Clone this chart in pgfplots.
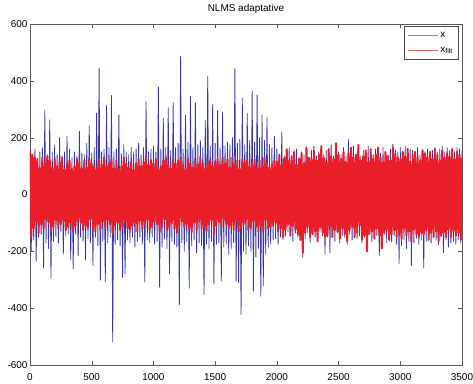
\documentclass[border=0pt]{standalone}
\usepackage{pgfplots}
\pgfplotsset{compat=1.18}
\usepackage{fontspec}
\setmainfont{Liberation Sans}
\definecolor{xblue}{RGB}{55,55,165}
\definecolor{xred}{RGB}{234,30,40}
\definecolor{legblue}{RGB}{130,130,205}
\definecolor{legred}{RGB}{230,100,110}
\begin{document}
\begin{tikzpicture}
\useasboundingbox (-30bp,-19bp) rectangle (443bp,365bp);
\begin{axis}[
  scale only axis, width=432bp, height=341bp,
  xmin=0, xmax=3500, ymin=-600, ymax=600,
  xtick={0,500,...,3500}, ytick={-600,-400,...,600},
  tick align=inside, major tick length=4bp,
  axis line style={black!65}, tick style={black!65},
  tick label style={font=\fontsize{10}{12}\selectfont},
  /pgf/number format/assume math mode=true,
  /pgf/number format/1000 sep={},
  xticklabel style={yshift=-5bp},
  yticklabel style={xshift=1bp},
  title={NLMS adaptative},
  title style={font=\fontsize{10}{12}\selectfont, yshift=1bp},
  legend style={at={(1,1)}, anchor=north east, xshift=-4bp, yshift=-2bp,
    draw=black!70, font=\fontsize{10}{12}\selectfont, inner xsep=3bp, inner ysep=4bp,
    row sep=4bp},
  legend cell align=left,
]
\addlegendimage{legend image code/.code={\pgfsetlinewidth{0.8pt}\pgfsetstrokecolor{legblue}\pgfpathmoveto{\pgfpoint{0bp}{0bp}}\pgfpathlineto{\pgfpoint{30bp}{0bp}}\pgfusepath{stroke}}}
\addlegendentry{x}
\addlegendimage{legend image code/.code={\pgfsetlinewidth{0.8pt}\pgfsetstrokecolor{legred}\pgfpathmoveto{\pgfpoint{0bp}{0bp}}\pgfpathlineto{\pgfpoint{30bp}{0bp}}\pgfusepath{stroke}}}
\addlegendentry{x\textsubscript{filt}}
\addplot[forget plot, xblue, line width=0.8pt, line join=round] coordinates {
(0,150)(10,-200)(20,130)(30,-160)(40,160)(50,-235)(60,120)(70,-150)(80,150)(90,-140)(100,165)(110,-259)(120,295)(130,-170)(140,140)(150,-190)(160,263)(170,-295)(180,150)(190,-165)
(200,175)(210,-150)(220,140)(230,-170)(240,200)(250,-130)(260,135)(270,-210)(280,150)(290,-145)(300,205)(310,-140)(320,160)(330,-230)(340,130)(350,-262)(360,150)(370,-140)(380,135)(390,-215)
(400,222)(410,-150)(420,145)(430,-165)(440,140)(450,-230)(460,180)(470,-155)(480,242)(490,-170)(500,145)(510,-250)(520,165)(530,-150)(540,286)(550,-180)(560,443)(570,-301)(580,150)(590,-165)
(600,160)(610,-308)(620,313)(630,-170)(640,165)(650,-150)(660,348)(670,-519)(680,150)(690,-175)(700,160)(710,-160)(720,280)(730,-180)(740,145)(750,-292)(760,175)(770,-280)(780,150)(790,-160)
(800,140)(810,-170)(820,165)(830,-150)(840,150)(850,-185)(860,160)(870,-165)(880,180)(890,-150)(900,140)(910,-175)(920,165)(930,-308)(940,327)(950,-160)(960,150)(970,-170)(980,160)(990,-150)
(1000,170)(1010,-175)(1020,150)(1030,-165)(1040,378)(1050,-326)(1060,160)(1070,-185)(1080,268)(1090,-155)(1100,165)(1110,-190)(1120,305)(1130,-280)(1140,155)(1150,-165)(1160,323)(1170,-175)(1180,165)(1190,-185)
(1200,180)(1210,-388)(1220,486)(1230,-170)(1240,160)(1250,-200)(1260,280)(1270,-165)(1280,185)(1290,-330)(1300,345)(1310,-180)(1320,165)(1330,-160)(1340,322)(1350,-205)(1360,175)(1370,-170)(1380,190)(1390,-180)
(1400,165)(1410,-352)(1420,262)(1430,-175)(1440,415)(1450,-190)(1460,170)(1470,-165)(1480,318)(1490,-315)(1500,180)(1510,-175)(1520,295)(1530,-170)(1540,165)(1550,-304)(1560,290)(1570,-185)(1580,170)(1590,-175)
(1600,185)(1610,-210)(1620,175)(1630,-190)(1640,200)(1650,-170)(1660,443)(1670,-305)(1680,180)(1690,-309)(1700,195)(1710,-422)(1720,339)(1730,-200)(1740,175)(1750,-210)(1760,285)(1770,-180)(1780,190)(1790,-200)
(1800,364)(1810,-340)(1820,185)(1830,-220)(1840,350)(1850,-190)(1860,200)(1870,-358)(1880,280)(1890,-320)(1900,190)(1910,-210)(1920,272)(1930,-185)(1940,175)(1950,-175)(1960,165)(1970,-160)(1980,204)(1990,-155)
(2000,160)(2010,-175)(2020,140)(2030,-150)(2040,220)(2050,-160)(2060,135)(2070,-145)(2080,150)(2090,-130)(2100,165)(2110,-140)(2120,125)(2130,-165)(2140,145)(2150,-135)(2160,160)(2170,-150)(2180,130)(2190,-140)
(2200,150)(2210,-222)(2220,140)(2230,-155)(2240,165)(2250,-135)(2260,130)(2270,-170)(2280,155)(2290,-140)(2300,170)(2310,-150)(2320,135)(2330,-160)(2340,150)(2350,-130)(2360,160)(2370,-145)(2380,140)(2390,-210)
(2400,155)(2410,-150)(2420,145)(2430,-205)(2440,175)(2450,-140)(2460,135)(2470,-165)(2480,160)(2490,-135)(2500,150)(2510,-170)(2520,140)(2530,-145)(2540,165)(2550,-150)(2560,135)(2570,-175)(2580,193)(2590,-140)
(2600,150)(2610,-160)(2620,170)(2630,-135)(2640,140)(2650,-155)(2660,160)(2670,-145)(2680,135)(2690,-170)(2700,155)(2710,-150)(2720,145)(2730,-160)(2740,170)(2750,-140)(2760,150)(2770,-165)(2780,140)(2790,-150)
(2800,160)(2810,-145)(2820,150)(2830,-215)(2840,145)(2850,-155)(2860,165)(2870,-140)(2880,150)(2890,-170)(2900,140)(2910,-150)(2920,160)(2930,-165)(2940,177)(2950,-145)(2960,155)(2970,-175)(2980,150)(2990,-243)
(3000,165)(3010,-180)(3020,150)(3030,-160)(3040,170)(3050,-190)(3060,145)(3070,-165)(3080,160)(3090,-250)(3100,155)(3110,-170)(3120,150)(3130,-155)(3140,165)(3150,-175)(3160,140)(3170,-160)(3180,155)(3190,-259)
(3200,150)(3210,-165)(3220,160)(3230,-150)(3240,145)(3250,-170)(3260,155)(3270,-145)(3280,165)(3290,-160)(3300,150)(3310,-175)(3320,160)(3330,-150)(3340,170)(3350,-205)(3360,150)(3370,-160)(3380,165)(3390,-185)
(3400,155)(3410,-170)(3420,160)(3430,-165)(3440,150)(3450,-175)(3460,165)(3470,-160)(3480,160)(3490,-170)(3500,155)
};
\addplot[forget plot, xred, line width=2pt, line join=round] coordinates {
(0,160)(10,-150)(20,140)(30,-120)(40,130)(50,-95)(60,125)(70,-135)(80,90)(90,-105)(100,130)(110,-120)(120,110)(130,-85)(140,135)(150,-100)(160,120)(170,-130)(180,95)(190,-115)
(200,125)(210,-90)(220,100)(230,-120)(240,115)(250,-105)(260,130)(270,-95)(280,88)(290,-125)(300,105)(310,-115)(320,120)(330,-100)(340,90)(350,-130)(360,100)(370,-110)(380,125)(390,-92)
(400,115)(410,-100)(420,92)(430,-125)(440,120)(450,-110)(460,95)(470,-115)(480,125)(490,-88)(500,110)(510,-120)(520,100)(530,-130)(540,90)(550,-105)(560,120)(570,-125)(580,105)(590,-95)
(600,130)(610,-115)(620,100)(630,-90)(640,110)(650,-105)(660,125)(670,-135)(680,92)(690,-110)(700,120)(710,-100)(720,90)(730,-125)(740,100)(750,-115)(760,130)(770,-95)(780,110)(790,-120)
(800,95)(810,-125)(820,115)(830,-110)(840,88)(850,-100)(860,110)(870,-130)(880,125)(890,-92)(900,100)(910,-120)(920,115)(930,-105)(940,130)(950,-90)(960,105)(970,-125)(980,120)(990,-115)
(1000,110)(1010,-95)(1020,125)(1030,-105)(1040,90)(1050,-130)(1060,100)(1070,-115)(1080,120)(1090,-88)(1100,130)(1110,-125)(1120,105)(1130,-115)(1140,92)(1150,-100)(1160,125)(1170,-120)(1180,110)(1190,-135)
(1200,120)(1210,-110)(1220,130)(1230,-95)(1240,105)(1250,-115)(1260,90)(1270,-105)(1280,125)(1290,-120)(1300,110)(1310,-130)(1320,95)(1330,-100)(1340,115)(1350,-125)(1360,105)(1370,-90)(1380,130)(1390,-120)
(1400,110)(1410,-115)(1420,92)(1430,-130)(1440,115)(1450,-105)(1460,120)(1470,-90)(1480,100)(1490,-140)(1500,115)(1510,-110)(1520,125)(1530,-95)(1540,105)(1550,-115)(1560,130)(1570,-88)(1580,110)(1590,-105)
(1600,125)(1610,-120)(1620,95)(1630,-110)(1640,130)(1650,-125)(1660,105)(1670,-92)(1680,120)(1690,-130)(1700,90)(1710,-120)(1720,125)(1730,-105)(1740,115)(1750,-88)(1760,120)(1770,-125)(1780,100)(1790,-115)
(1800,110)(1810,-95)(1820,125)(1830,-115)(1840,92)(1850,-130)(1860,120)(1870,-110)(1880,100)(1890,-125)(1900,130)(1910,-90)(1920,110)(1930,-120)(1940,95)(1950,-115)(1960,105)(1970,-110)(1980,120)(1990,-100)
(2000,115)(2010,-130)(2020,140)(2030,-120)(2040,105)(2050,-150)(2060,130)(2070,-125)(2080,160)(2090,-105)(2100,120)(2110,-145)(2120,135)(2130,-110)(2140,150)(2150,-125)(2160,105)(2170,-140)(2180,125)(2190,-160)
(2200,145)(2210,-205)(2220,110)(2230,-135)(2240,165)(2250,-115)(2260,130)(2270,-150)(2280,125)(2290,-140)(2300,155)(2310,-130)(2320,120)(2330,-165)(2340,140)(2350,-115)(2360,170)(2370,-135)(2380,130)(2390,-150)
(2400,115)(2410,-145)(2420,160)(2430,-110)(2440,135)(2450,-150)(2460,125)(2470,-125)(2480,180)(2490,-130)(2500,140)(2510,-155)(2520,125)(2530,-120)(2540,150)(2550,-140)(2560,115)(2570,-165)(2580,145)(2590,-125)
(2600,165)(2610,-115)(2620,130)(2630,-150)(2640,140)(2650,-135)(2660,175)(2670,-110)(2680,120)(2690,-160)(2700,135)(2710,-145)(2720,155)(2730,-200)(2740,115)(2750,-140)(2760,160)(2770,-130)(2780,125)(2790,-155)
(2800,140)(2810,-120)(2820,165)(2830,-145)(2840,130)(2850,-190)(2860,115)(2870,-135)(2880,150)(2890,-125)(2900,135)(2910,-160)(2920,120)(2930,-140)(2940,165)(2950,-125)(2960,145)(2970,-150)(2980,130)(2990,-135)
(3000,125)(3010,-155)(3020,150)(3030,-120)(3040,135)(3050,-145)(3060,160)(3070,-130)(3080,115)(3090,-165)(3100,140)(3110,-125)(3120,150)(3130,-140)(3140,130)(3150,-150)(3160,120)(3170,-135)(3180,155)(3190,-140)
(3200,145)(3210,-125)(3220,130)(3230,-160)(3240,150)(3250,-135)(3260,125)(3270,-150)(3280,160)(3290,-130)(3300,140)(3310,-165)(3320,120)(3330,-145)(3340,155)(3350,-135)(3360,130)(3370,-150)(3380,145)(3390,-125)
(3400,135)(3410,-150)(3420,160)(3430,-130)(3440,125)(3450,-145)(3460,150)(3470,-135)(3480,140)(3490,-160)(3500,130)
};
\end{axis}
\end{tikzpicture}
\end{document}
